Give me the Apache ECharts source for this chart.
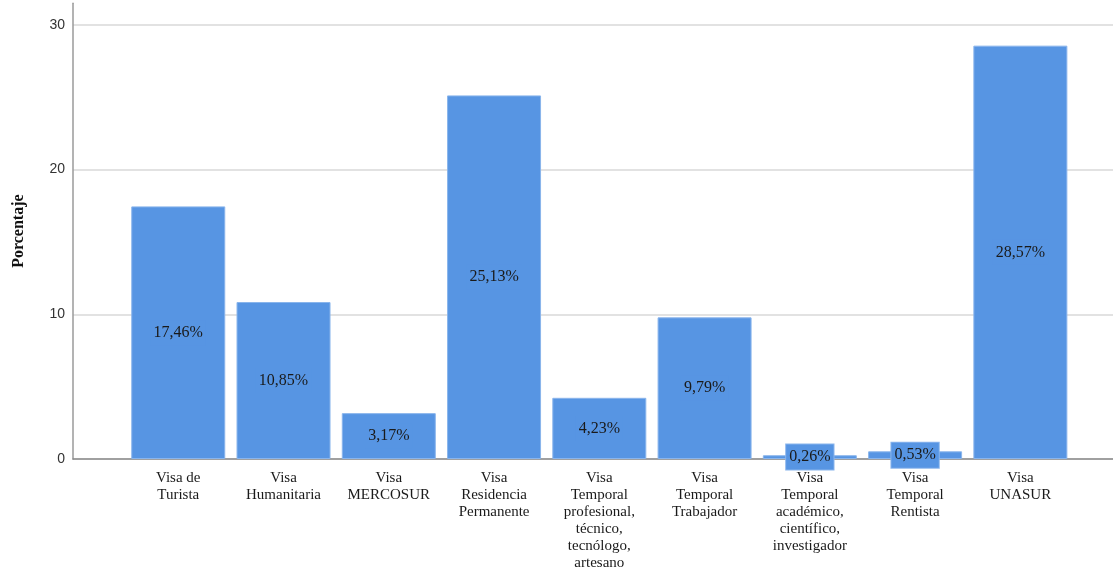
<!DOCTYPE html>
<html>
<head>
<meta charset="utf-8">
<script src="https://cdn.jsdelivr.net/npm/echarts@6/dist/echarts.min.js"></script>
<style>html,body{margin:0;padding:0;background:#fff}#c{width:1113px;height:572px}</style>
</head>
<body>
<div id="c"></div>
<script>
const categories = [
  "Visa de\nTurista",
  "Visa\nHumanitaria",
  "Visa\nMERCOSUR",
  "Visa\nResidencia\nPermanente",
  "Visa\nTemporal\nprofesional,\ntécnico,\ntecnólogo,\nartesano",
  "Visa\nTemporal\nTrabajador",
  "Visa\nTemporal\nacadémico,\ncientífico,\ninvestigador",
  "Visa\nTemporal\nRentista",
  "Visa\nUNASUR"
];
const values = [17.46, 10.85, 3.17, 25.13, 4.23, 9.79, 0.26, 0.53, 28.57];
const yTicks = [0, 10, 20, 30];

const BAR = '#5795e3';
const chart = echarts.init(document.getElementById('c'));
chart.setOption({
  animation: false,
  grid: {left: 73, right: 0, top: 3.25, bottom: 112, containLabel: false},
  xAxis: {
    type: 'value', min: -1, max: 8.88, interval: 1,
    axisLine: {show: true, onZero: false, lineStyle: {color: '#8a8a8a', width: 1.5}},
    axisTick: {show: false},
    splitLine: {show: false},
    axisLabel: {
      showMaxLabel: false, showMinLabel: false, margin: 11,
      fontFamily: 'Liberation Serif', fontSize: 15, lineHeight: 17, color: '#1a1a1a',
      formatter: v => (Number.isInteger(v) && v >= 0 && v < categories.length) ? categories[v] : ''
    }
  },
  yAxis: {
    type: 'value', min: 0, max: 31.5, interval: 10,
    name: 'Porcentaje', nameLocation: 'middle', nameGap: 46, nameRotate: 90,
    nameTextStyle: {fontFamily: 'Liberation Serif', fontSize: 16, fontWeight: 'bold', color: '#111'},
    axisLine: {show: true, onZero: false, lineStyle: {color: '#9a9a9a', width: 1.5}},
    axisTick: {show: false},
    axisLabel: {
      showMaxLabel: false, margin: 8, fontFamily: 'Liberation Sans', fontSize: 14, color: '#333',
      formatter: v => yTicks.includes(v) ? String(v) : ''
    },
    splitLine: {show: true, showMaxLine: false, lineStyle: {color: '#d8d8d8', width: 1.5}}
  },
  series: [{
    type: 'bar',
    barWidth: 94,
    data: values.map((v, i) => ({
      value: [i, v],
      label: v < 1 ? {borderColor: '#8ab5ec', borderWidth: 1} : {}
    })),
    itemStyle: {color: BAR, borderColor: '#8ab5ec', borderWidth: 1},
    label: {
      show: true, position: 'inside',
      fontFamily: 'Liberation Serif', fontSize: 16, color: '#1a1a1a',
      backgroundColor: BAR, padding: [6, 3, 3, 3],
      formatter: p => p.value[1].toFixed(2).replace('.', ',') + '%'
    }
  }]
});
</script>
</body>
</html>
